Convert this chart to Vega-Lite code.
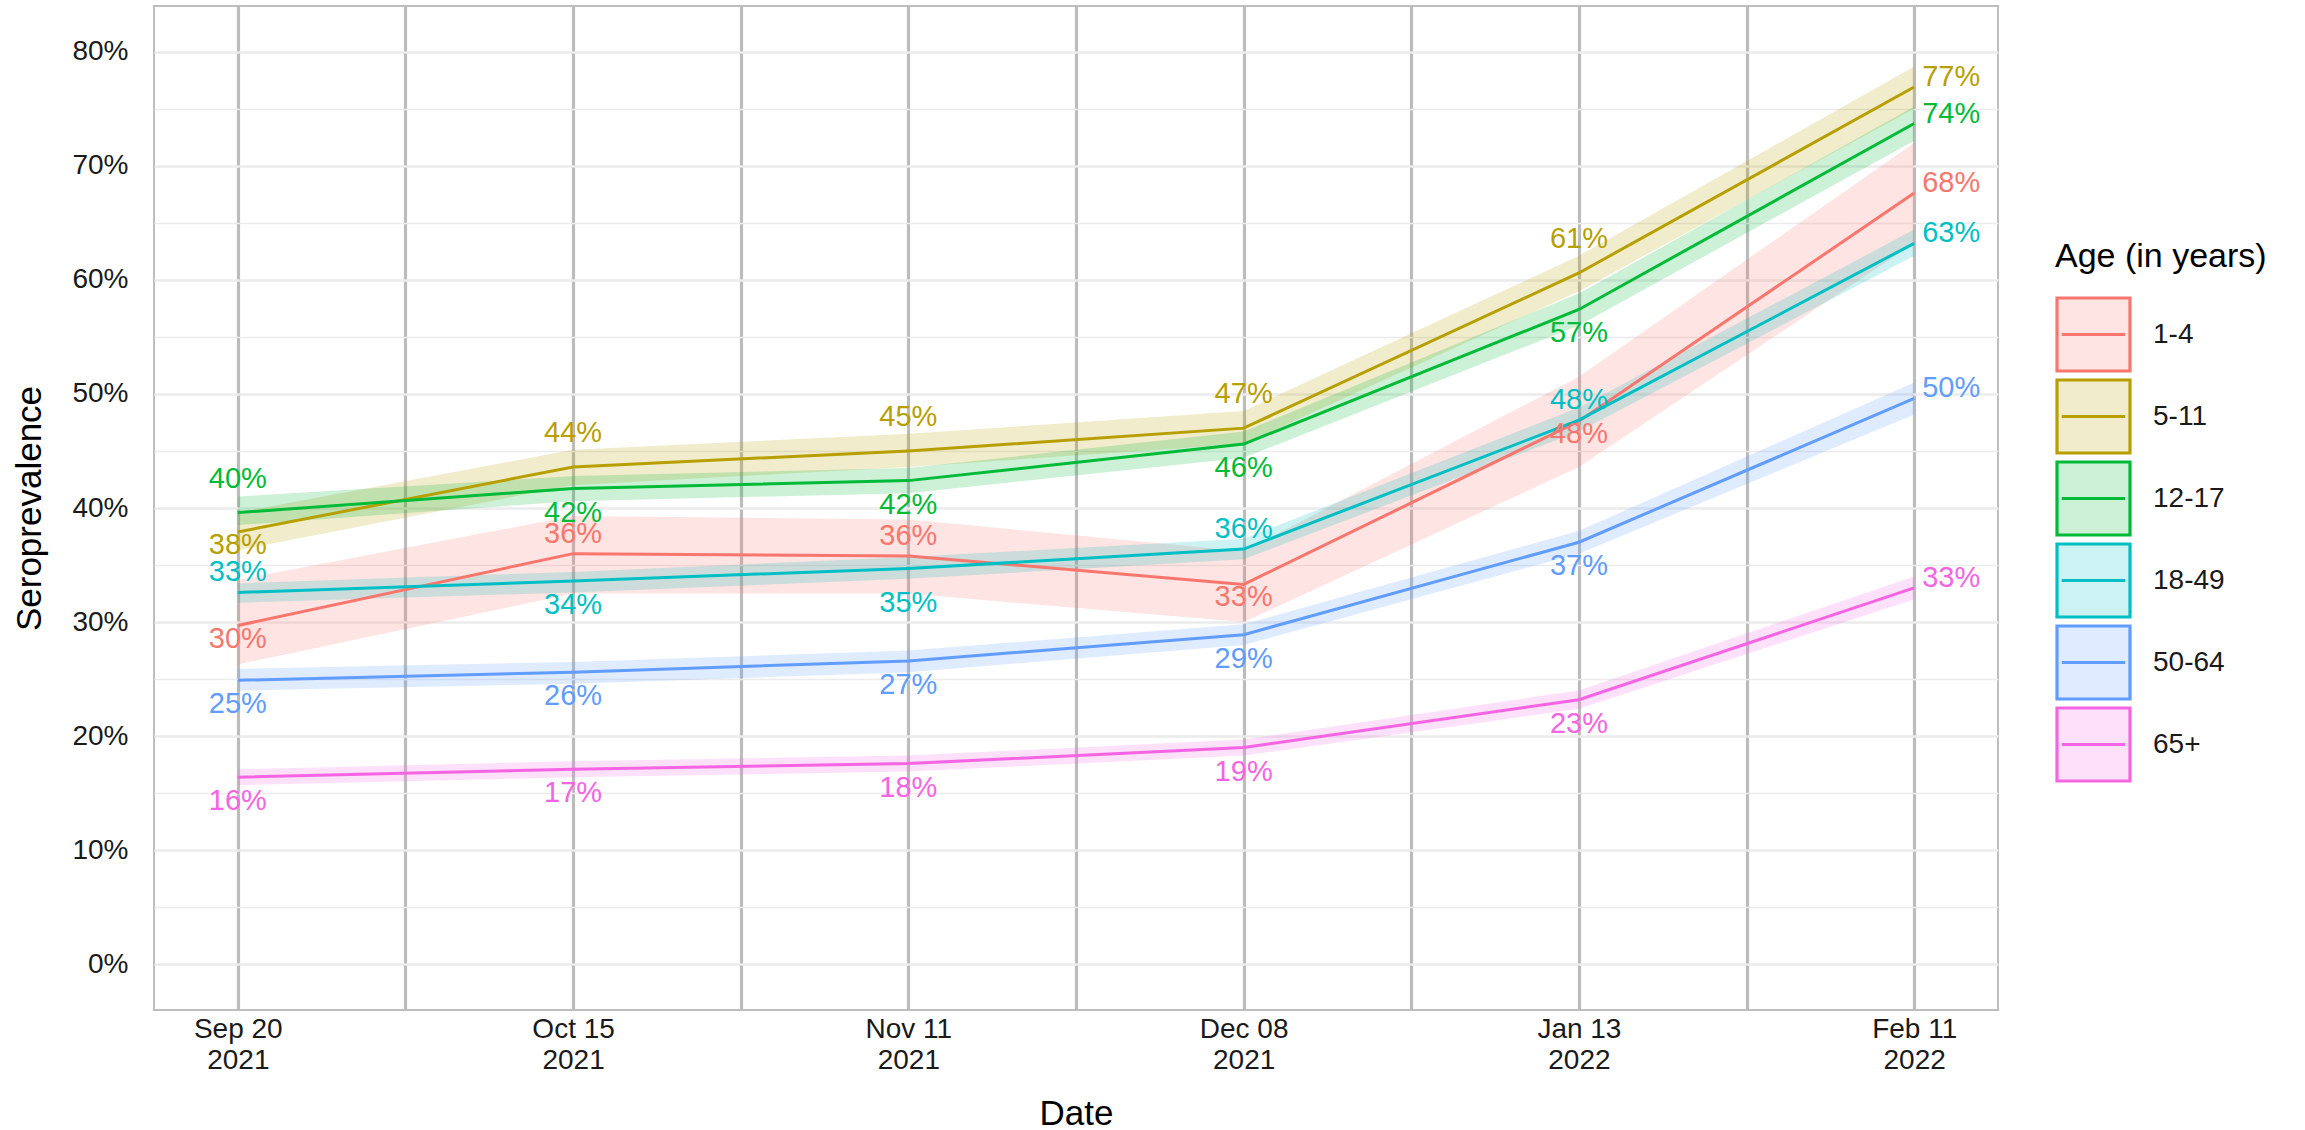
{
  "$schema": "https://vega.github.io/schema/vega-lite/v6.json",
  "autosize": {"type": "none"},
  "width": 1844,
  "height": 1004,
  "padding": {"left": 154, "top": 6, "right": 307, "bottom": 120},
  "background": "white",
  "config": {
    "font": "Liberation Sans",
    "view": {"stroke": "#bebebe", "strokeWidth": 2},
    "axis": {"labelFont": "Liberation Sans", "titleFont": "Liberation Sans", "titleFontWeight": "normal", "labelColor": "#1a1a1a", "titleColor": "#000000"},
    "legend": {"labelFont": "Liberation Sans", "titleFont": "Liberation Sans"}
  },
  "data": {
    "values": [
      {"age": "1-4", "visit": 1, "date": "2021-09-20", "value": 0.297, "lo": 0.263, "hi": 0.337, "side": "below_near"},
      {"age": "1-4", "visit": 2, "date": "2021-10-15", "value": 0.360, "lo": 0.325, "hi": 0.393, "side": "above_near"},
      {"age": "1-4", "visit": 3, "date": "2021-11-11", "value": 0.358, "lo": 0.325, "hi": 0.390, "side": "above_near"},
      {"age": "1-4", "visit": 4, "date": "2021-12-08", "value": 0.333, "lo": 0.300, "hi": 0.362, "side": "below_near"},
      {"age": "1-4", "visit": 5, "date": "2022-01-13", "value": 0.476, "lo": 0.436, "hi": 0.515, "side": "below_near"},
      {"age": "1-4", "visit": 6, "date": "2022-02-11", "value": 0.676, "lo": 0.632, "hi": 0.720, "side": "right"},
      {"age": "5-11", "visit": 1, "date": "2021-09-20", "value": 0.379, "lo": 0.363, "hi": 0.396, "side": "below_near"},
      {"age": "5-11", "visit": 2, "date": "2021-10-15", "value": 0.436, "lo": 0.420, "hi": 0.451, "side": "above"},
      {"age": "5-11", "visit": 3, "date": "2021-11-11", "value": 0.450, "lo": 0.436, "hi": 0.465, "side": "above"},
      {"age": "5-11", "visit": 4, "date": "2021-12-08", "value": 0.470, "lo": 0.456, "hi": 0.485, "side": "above"},
      {"age": "5-11", "visit": 5, "date": "2022-01-13", "value": 0.606, "lo": 0.590, "hi": 0.621, "side": "above"},
      {"age": "5-11", "visit": 6, "date": "2022-02-11", "value": 0.769, "lo": 0.750, "hi": 0.787, "side": "right"},
      {"age": "12-17", "visit": 1, "date": "2021-09-20", "value": 0.396, "lo": 0.385, "hi": 0.410, "side": "above"},
      {"age": "12-17", "visit": 2, "date": "2021-10-15", "value": 0.417, "lo": 0.406, "hi": 0.428, "side": "below"},
      {"age": "12-17", "visit": 3, "date": "2021-11-11", "value": 0.424, "lo": 0.413, "hi": 0.435, "side": "below"},
      {"age": "12-17", "visit": 4, "date": "2021-12-08", "value": 0.456, "lo": 0.444, "hi": 0.467, "side": "below"},
      {"age": "12-17", "visit": 5, "date": "2022-01-13", "value": 0.574, "lo": 0.560, "hi": 0.588, "side": "below"},
      {"age": "12-17", "visit": 6, "date": "2022-02-11", "value": 0.737, "lo": 0.722, "hi": 0.752, "side": "right"},
      {"age": "18-49", "visit": 1, "date": "2021-09-20", "value": 0.326, "lo": 0.317, "hi": 0.334, "side": "above_near"},
      {"age": "18-49", "visit": 2, "date": "2021-10-15", "value": 0.336, "lo": 0.326, "hi": 0.344, "side": "below"},
      {"age": "18-49", "visit": 3, "date": "2021-11-11", "value": 0.347, "lo": 0.338, "hi": 0.357, "side": "below_far"},
      {"age": "18-49", "visit": 4, "date": "2021-12-08", "value": 0.364, "lo": 0.355, "hi": 0.373, "side": "above_near"},
      {"age": "18-49", "visit": 5, "date": "2022-01-13", "value": 0.477, "lo": 0.467, "hi": 0.488, "side": "above_near"},
      {"age": "18-49", "visit": 6, "date": "2022-02-11", "value": 0.632, "lo": 0.621, "hi": 0.644, "side": "right"},
      {"age": "50-64", "visit": 1, "date": "2021-09-20", "value": 0.249, "lo": 0.240, "hi": 0.259, "side": "below"},
      {"age": "50-64", "visit": 2, "date": "2021-10-15", "value": 0.256, "lo": 0.246, "hi": 0.265, "side": "below"},
      {"age": "50-64", "visit": 3, "date": "2021-11-11", "value": 0.266, "lo": 0.256, "hi": 0.275, "side": "below"},
      {"age": "50-64", "visit": 4, "date": "2021-12-08", "value": 0.289, "lo": 0.280, "hi": 0.298, "side": "below"},
      {"age": "50-64", "visit": 5, "date": "2022-01-13", "value": 0.370, "lo": 0.360, "hi": 0.380, "side": "below"},
      {"age": "50-64", "visit": 6, "date": "2022-02-11", "value": 0.496, "lo": 0.482, "hi": 0.510, "side": "right"},
      {"age": "65+", "visit": 1, "date": "2021-09-20", "value": 0.164, "lo": 0.157, "hi": 0.171, "side": "below"},
      {"age": "65+", "visit": 2, "date": "2021-10-15", "value": 0.171, "lo": 0.164, "hi": 0.178, "side": "below"},
      {"age": "65+", "visit": 3, "date": "2021-11-11", "value": 0.176, "lo": 0.169, "hi": 0.183, "side": "below"},
      {"age": "65+", "visit": 4, "date": "2021-12-08", "value": 0.190, "lo": 0.183, "hi": 0.197, "side": "below"},
      {"age": "65+", "visit": 5, "date": "2022-01-13", "value": 0.232, "lo": 0.224, "hi": 0.240, "side": "below"},
      {"age": "65+", "visit": 6, "date": "2022-02-11", "value": 0.330, "lo": 0.320, "hi": 0.340, "side": "right"}
    ]
  },
  "encoding": {
    "x": {
      "field": "visit", "type": "quantitative",
      "scale": {"domain": [0.75, 6.25], "nice": false, "zero": false},
      "axis": {
        "title": "Date", "titleFontSize": 35, "titlePadding": 22,
        "values": [1, 1.5, 2, 2.5, 3, 3.5, 4, 4.5, 5, 5.5, 6],
        "labelExpr": "datum.value == 1 ? ['Sep 20', '2021'] : datum.value == 2 ? ['Oct 15', '2021'] : datum.value == 3 ? ['Nov 11', '2021'] : datum.value == 4 ? ['Dec 08', '2021'] : datum.value == 5 ? ['Jan 13', '2022'] : datum.value == 6 ? ['Feb 11', '2022'] : ''",
        "labelFontSize": 28, "labelLineHeight": 31, "labelPadding": 5,
        "labelOverlap": false, "labelFlush": false,
        "ticks": false, "tickSize": 0, "domain": false,
        "grid": true, "gridColor": "#bcbcbc", "gridWidth": 3.2
      }
    },
    "color": {
      "field": "age", "type": "nominal",
      "scale": {"domain": ["1-4", "5-11", "12-17", "18-49", "50-64", "65+"], "range": ["#F8766D", "#B79F00", "#00BA38", "#00BFC4", "#619CFF", "#F564E3"]},
      "legend": {
        "title": "Age (in years)", "orient": "none", "legendX": 1901, "legendY": 234,
        "titleFontSize": 34, "titleFontWeight": "normal", "titleColor": "#000000", "titlePadding": 22, "titleLimit": 500,
        "labelFontSize": 28, "labelColor": "#1a1a1a", "labelOffset": 21, "labelLimit": 300,
        "symbolType": "M-1,-1H1V1H-1Z M-0.87,0H0.87",
        "symbolSize": 5329, "symbolStrokeWidth": 3.2, "rowPadding": -6, "padding": 0,
        "encode": {
          "symbols": {
            "update": {
              "fill": {"scale": "color", "field": "value"},
              "fillOpacity": {"value": 0.2},
              "stroke": {"scale": "color", "field": "value"},
              "strokeWidth": {"value": 3.2},
              "opacity": {"value": 1}
            }
          }
        }
      }
    }
  },
  "layer": [
    {
      "mark": {"type": "area", "opacity": 0.2},
      "encoding": {
        "y": {
          "field": "lo", "type": "quantitative",
          "scale": {"domain": [-0.04, 0.84], "nice": false, "zero": false},
          "axis": {
            "title": "Seroprevalence", "titleFontSize": 35, "titlePadding": 24,
            "values": [0, 0.05, 0.1, 0.15, 0.2, 0.25, 0.3, 0.35, 0.4, 0.45, 0.5, 0.55, 0.6, 0.65, 0.7, 0.75, 0.8],
            "labelExpr": "round(datum.value * 100) % 10 == 0 ? format(datum.value, '.0%') : ''",
            "labelFontSize": 28, "labelPadding": 26, "labelOverlap": false,
            "ticks": false, "tickSize": 0, "domain": false,
            "grid": true,
            "gridColor": "#ebebeb",
            "gridWidth": {"condition": {"test": "round(datum.value * 100) % 10 == 0", "value": 2.5}, "value": 1.5}
          }
        },
        "y2": {"field": "hi"}
      }
    },
    {
      "mark": {"type": "line", "strokeWidth": 3},
      "encoding": {"y": {"field": "value", "type": "quantitative"}}
    },
    {
      "transform": [{"filter": "datum.side == 'above'"}],
      "mark": {"type": "text", "fontSize": 29, "baseline": "middle", "dy": -34},
      "encoding": {"y": {"field": "value", "type": "quantitative"}, "text": {"field": "value", "type": "quantitative", "format": ".0%"}}
    },
    {
      "transform": [{"filter": "datum.side == 'above_near'"}],
      "mark": {"type": "text", "fontSize": 29, "baseline": "middle", "dy": -20},
      "encoding": {"y": {"field": "value", "type": "quantitative"}, "text": {"field": "value", "type": "quantitative", "format": ".0%"}}
    },
    {
      "transform": [{"filter": "datum.side == 'below'"}],
      "mark": {"type": "text", "fontSize": 29, "baseline": "middle", "dy": 24},
      "encoding": {"y": {"field": "value", "type": "quantitative"}, "text": {"field": "value", "type": "quantitative", "format": ".0%"}}
    },
    {
      "transform": [{"filter": "datum.side == 'below_near'"}],
      "mark": {"type": "text", "fontSize": 29, "baseline": "middle", "dy": 13},
      "encoding": {"y": {"field": "value", "type": "quantitative"}, "text": {"field": "value", "type": "quantitative", "format": ".0%"}}
    },
    {
      "transform": [{"filter": "datum.side == 'below_far'"}],
      "mark": {"type": "text", "fontSize": 29, "baseline": "middle", "dy": 35},
      "encoding": {"y": {"field": "value", "type": "quantitative"}, "text": {"field": "value", "type": "quantitative", "format": ".0%"}}
    },
    {
      "transform": [{"filter": "datum.side == 'right'"}],
      "mark": {"type": "text", "fontSize": 29, "align": "left", "baseline": "alphabetic", "dx": 8, "dy": -1},
      "encoding": {"y": {"field": "value", "type": "quantitative"}, "text": {"field": "value", "type": "quantitative", "format": ".0%"}}
    }
  ]
}
